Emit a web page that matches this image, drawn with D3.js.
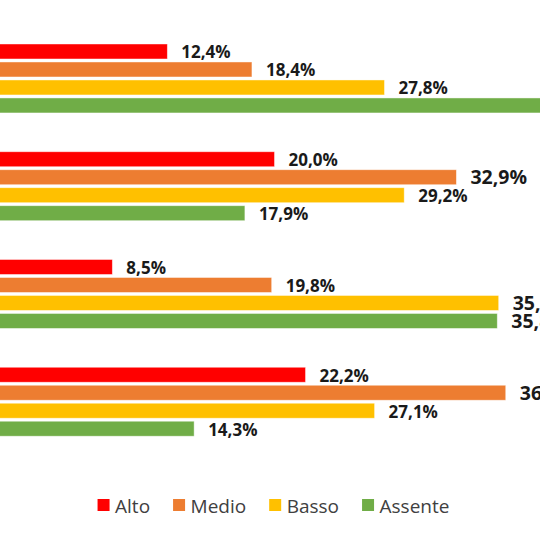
<!DOCTYPE html>
<html>
<head>
<meta charset="utf-8">
<script src="https://cdn.jsdelivr.net/npm/d3@7"></script>
<style>
  html, body { margin: 0; padding: 0; background: #ffffff; }
  svg { display: block; }
</style>
</head>
<body>
<svg id="chart" width="540" height="540"></svg>
<script>
// ---- data ----
const categories = ["Gruppo 1", "Gruppo 2", "Gruppo 3", "Gruppo 4"];
const series = ["Alto", "Medio", "Basso", "Assente"];
const alto    = [12.4, 20.0, 8.5, 22.2];
const medio   = [18.4, 32.9, 19.8, 36.4];
const basso   = [27.8, 29.2, 35.9, 27.1];
const assente = [41.4, 17.9, 35.8, 14.3];
const colors  = ["#FF0000", "#ED7D31", "#FFC000", "#70AD47"];

const values = [alto, medio, basso, assente];
const rows = [];
categories.forEach((c, ci) => {
  series.forEach((s, si) => rows.push({ cat: c, ser: s, si, v: values[si][ci] }));
});

// ---- layout ----
const svg = d3.select("#chart");
const W = 540, H = 540;

const x = d3.scaleLinear().domain([0, 40]).range([-7.5, -7.5 + 40 * 14.1]);
const y0 = d3.scaleBand().domain(categories).range([24.6, 455.6])
  .paddingInner(0.36).paddingOuter(0.18);
const y1 = d3.scaleBand().domain(series).range([0, y0.bandwidth()])
  .paddingInner(0.1667).paddingOuter(0);
const color = d3.scaleOrdinal().domain(series).range(colors);

const it = d3.formatLocale({ decimal: ",", thousands: ".", grouping: [3], currency: ["€", ""] });
const fmt = v => it.format(".1f")(v) + "%";

const g = svg.append("g");

g.selectAll("rect.bar").data(rows).join("rect")
  .attr("class", "bar")
  .attr("x", x(0))
  .attr("y", d => y0(d.cat) + y1(d.ser))
  .attr("width", d => x(d.v) - x(0))
  .attr("height", y1.bandwidth())
  .attr("fill", d => color(d.ser))
  .attr("stroke", "#ffffff")
  .attr("stroke-opacity", 0.55)
  .attr("stroke-width", 0.8);

g.selectAll("text.lbl").data(rows).join("text")
  .attr("class", "lbl")
  .attr("x", d => x(d.v) + 14)
  .attr("y", d => y0(d.cat) + y1(d.ser) + y1.bandwidth() - 0.5)
  .attr("font-family", "'Open Sans', sans-serif")
  .attr("font-weight", "bold")
  .attr("font-size", d => d.v > 30 ? 19.5 : 17)
  .attr("fill", "#1a1a1a")
  .text(d => fmt(d.v));

// ---- legend ----
const legend = svg.append("g");
const items = legend.selectAll("g.item").data(series).join("g").attr("class", "item");
items.append("rect")
  .attr("width", 12).attr("height", 12)
  .attr("y", 499)
  .attr("fill", d => color(d));
items.append("text")
  .attr("x", 17.5)
  .attr("y", 512.5)
  .attr("font-family", "'Open Sans', sans-serif")
  .attr("font-size", 19)
  .attr("fill", "#404040")
  .text(d => d);

let cx = 0;
const offs = [];
items.each(function () {
  offs.push(cx);
  const tw = d3.select(this).select("text").node().getComputedTextLength();
  cx += 17.5 + tw + 23;
});
const total = cx - 23;
const startX = 273.5 - total / 2;
items.attr("transform", (d, i) => `translate(${startX + offs[i]},0)`);
</script>
</body>
</html>
